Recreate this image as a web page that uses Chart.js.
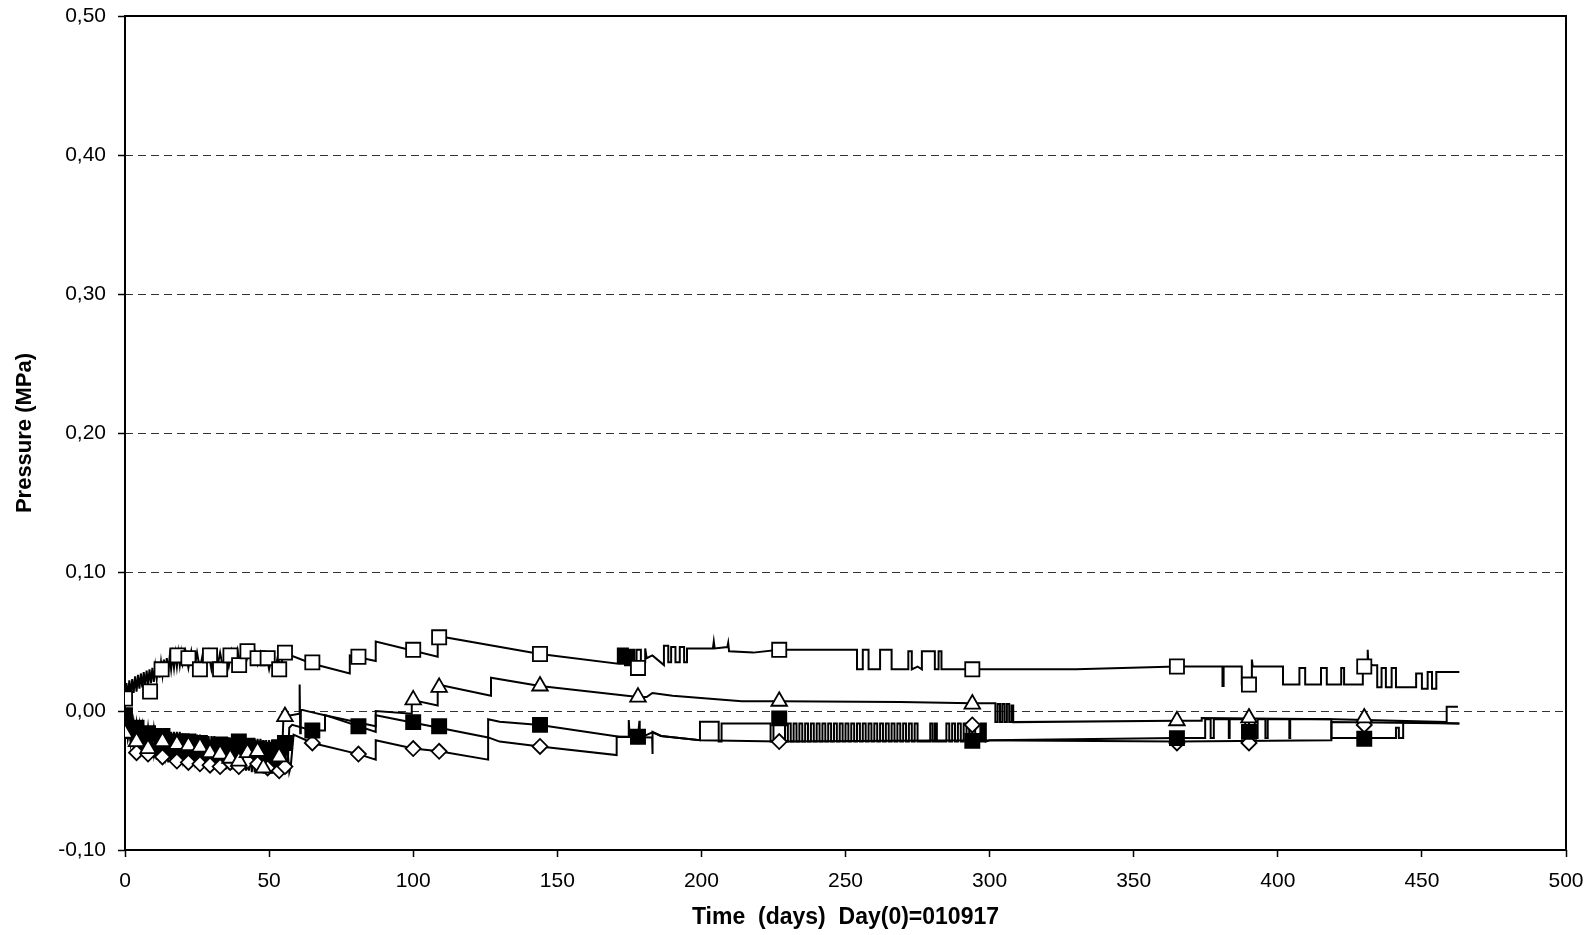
<!DOCTYPE html>
<html>
<head>
<meta charset="utf-8">
<script src="https://cdn.jsdelivr.net/npm/chart.js@4/dist/chart.umd.min.js"></script>
<style>
  html, body { margin: 0; padding: 0; background: #fff; }
  #wrap { width: 1594px; height: 935px; }
</style>
</head>
<body>
<div id="wrap"><canvas id="chart-pressure" width="1594" height="935"></canvas></div>
<script>
// Pressure readings, [day, MPa]
const seriesA = [
  [0,0.009],[0.5,0.020],[1,0.010],[1.5,0.022],[2,0.012],[2.5,0.023],[3,0.013],[3.5,0.025],[4,0.014],[4.5,0.026],
  [5,0.016],[5.5,0.027],[6,0.017],[6.5,0.028],[7,0.018],[7.5,0.029],[8,0.019],[8.5,0.030],[9,0.020],[9.5,0.031],
  [10,0.021],[10.5,0.032],[11,0.023],[11.5,0.034],[12,0.024],[12.5,0.035],[13,0.026],[13.5,0.037],[14,0.027],
  [14.5,0.038],[15,0.028],[15.5,0.039],[16,0.030],[16.5,0.040],[17,0.031],[17.5,0.041],[18,0.032],[18.5,0.042],
  [19,0.033],[19.5,0.042],[20,0.034],[21,0.043],[22,0.031],[23,0.043],[24,0.030],[25,0.042],[26,0.030],[27,0.041],
  [28,0.031],[29,0.042],[30,0.030],[31,0.041],[32,0.031],[33,0.042],[34,0.031],[35,0.042],[36,0.032],[37,0.043],
  [38,0.033],[39,0.044],[40,0.034],[41,0.045],[42,0.035],[43,0.044],[44,0.035],[45,0.043],[46,0.034],[47,0.042],
  [48,0.035],[49,0.041],[50,0.030],[51,0.040],[52,0.029],[53,0.039],[54,0.031],[55,0.042],
  [65,0.034],[78,0.027],[78,0.040],[87,0.036],[87,0.050],[108.5,0.039],[108.5,0.054],[144,0.041],[171,0.034],
  [171,0.045],[171.5,0.045],[171.5,0.034],[172,0.034],[172,0.045],[172.5,0.045],[172.5,0.034],[173,0.034],
  [173,0.045],[173.5,0.045],[173.5,0.033],[174,0.033],[174,0.045],[174.5,0.045],[174.5,0.033],[175,0.033],
  [175,0.044],[175.5,0.044],[175.5,0.033],[176,0.033],[176,0.044],[176.7,0.044],[176.7,0.033],[177.5,0.033],
  [177.5,0.044],[179,0.044],[179,0.035],[180.5,0.035],[180.5,0.045],
  [181,0.038],[183,0.040],[187,0.033],[187,0.047],[188.5,0.047],[188.5,0.035],[189.5,0.035],[189.5,0.046],
  [191,0.046],[191,0.035],[192.5,0.035],[192.5,0.046],[194,0.046],[194,0.035],[195,0.035],[195,0.045],
  [204,0.045],[204.3,0.050],[204.6,0.045],[209,0.046],[209.3,0.049],[209.6,0.043],[218,0.042],[227,0.044],[254,0.044],
  [254,0.030],[256,0.030],[256,0.044],[258,0.044],[258,0.030],[262,0.030],[262,0.044],[266,0.044],[266,0.030],
  [271.8,0.030],[271.8,0.043],[273,0.043],[273,0.030],[275,0.032],[276.5,0.030],[276.5,0.043],[281,0.043],
  [281,0.030],[282.3,0.030],[282.3,0.043],[283.3,0.043],[283.3,0.030],[294,0.030],[330,0.030],[365,0.032],
  [380.8,0.032],[380.8,0.018],[381.2,0.018],[381.2,0.032],[387.5,0.032],[387.5,0.019],[391,0.019],[391,0.037],
  [391.3,0.032],[401.8,0.032],[401.8,0.019],[407.5,0.019],[407.5,0.031],[409.5,0.031],[409.5,0.019],[415,0.019],
  [415,0.031],[417,0.031],[417,0.019],[422,0.019],[422,0.031],[423,0.031],[423,0.019],[429.5,0.019],[429.5,0.032],
  [431,0.034],[431.2,0.044],[431.4,0.034],[433,0.033],[434.5,0.033],[434.5,0.017],[436,0.017],[436,0.031],
  [437.5,0.031],[437.5,0.017],[439.5,0.017],[439.5,0.031],[441,0.031],[441,0.017],[448,0.017],[448,0.027],
  [450,0.027],[450,0.016],[452,0.016],[452,0.028],[453.5,0.028],[453.5,0.016],[455,0.016],[455,0.028],[463,0.028]
];

const seriesB = [
  [0,-0.016],[0.5,-0.006],[1,-0.018],[1.5,-0.010],[2,-0.021],[2.5,-0.012],[3,-0.023],[3.5,-0.014],[4,-0.025],
  [4.5,-0.016],[5,-0.026],[5.5,-0.017],[6,-0.027],[6.5,-0.018],[7,-0.028],[7.5,-0.019],[8,-0.029],[8.5,-0.019],
  [9,-0.030],[9.5,-0.020],[10,-0.030],[10.5,-0.020],[11,-0.031],[11.5,-0.021],[12,-0.031],[12.5,-0.021],
  [13,-0.032],[13.5,-0.022],[14,-0.032],[14.5,-0.022],[15,-0.033],[15.5,-0.022],[16,-0.033],[16.5,-0.023],
  [17,-0.033],[17.5,-0.023],[18,-0.034],[18.5,-0.023],[19,-0.034],[19.5,-0.024],[20,-0.034],[20.5,-0.024],
  [21,-0.035],[21.5,-0.024],[22,-0.035],[22.5,-0.024],[23,-0.035],[23.5,-0.025],[24,-0.035],[24.5,-0.025],
  [25,-0.036],[25.5,-0.025],[26,-0.036],[26.5,-0.025],[27,-0.036],[27.5,-0.025],[28,-0.036],[28.5,-0.026],
  [29,-0.037],[29.5,-0.026],[30,-0.037],[30.5,-0.026],[31,-0.037],[31.5,-0.026],[32,-0.037],[32.5,-0.026],
  [33,-0.038],[33.5,-0.026],[34,-0.038],[34.5,-0.027],[35,-0.038],[35.5,-0.027],[36,-0.038],[36.5,-0.027],
  [37,-0.038],[37.5,-0.027],[38,-0.039],[38.5,-0.027],[39,-0.039],[39.5,-0.027],[40,-0.039],[40.5,-0.028],
  [41,-0.039],[41.5,-0.028],[42,-0.039],[42.5,-0.028],[43,-0.040],[43.5,-0.028],[44,-0.040],[44.5,-0.028],
  [45,-0.040],[45.5,-0.028],[46,-0.040],[46.5,-0.029],[47,-0.041],[47.5,-0.029],[48,-0.041],[48.5,-0.029],
  [49,-0.041],[49.5,-0.029],[50,-0.041],[50.5,-0.029],[51,-0.041],[51.5,-0.029],[52,-0.042],[52.5,-0.029],
  [53,-0.042],[53.5,-0.030],[54,-0.042],[54.5,-0.030],[55,-0.004],
  [60.5,-0.002],[60.6,0.019],[60.8,-0.016],[61,0.001],[65,-0.001],[69.3,-0.003],[87,-0.011],[87,0.000],
  [99.5,-0.002],[99.5,0.008],[108.5,0.004],[108.5,0.019],[127,0.011],[127,0.024],[144,0.018],[178,0.010],
  [181,0.010],[183,0.013],[190,0.011],[214,0.007],[227,0.007],[269,0.0065],[294,0.0055],[302,0.0055],
  [302,-0.008],[302.8,-0.008],[302.8,0.005],[303.6,0.005],[303.6,-0.008],[304.4,-0.008],[304.4,0.005],
  [305.2,0.005],[305.2,-0.008],[306,-0.008],[306,0.005],[306.8,0.005],[306.8,-0.008],[307.6,-0.008],
  [307.6,0.004],[308.2,0.004],[308.2,-0.008],[365,-0.007],[373.6,-0.007],[373.6,-0.005],[420,-0.006],
  [458.6,-0.008],[458.6,0.003],[462.5,0.003]
];

const seriesC = [
  [0,-0.003],[0.5,-0.012],[1,-0.004],[1.5,-0.015],[2,-0.006],[2.5,-0.017],[3,-0.008],[3.5,-0.018],[4,-0.009],
  [4.5,-0.019],[5,-0.010],[5.5,-0.020],[6,-0.011],[6.5,-0.021],[7,-0.011],[7.5,-0.022],[8,-0.012],[8.5,-0.022],
  [9,-0.012],[9.5,-0.023],[10,-0.013],[10.5,-0.023],[11,-0.013],[11.5,-0.024],[12,-0.013],[12.5,-0.024],
  [13,-0.014],[13.5,-0.025],[14,-0.014],[14.5,-0.025],[15,-0.014],[15.5,-0.025],[16,-0.015],[16.5,-0.026],
  [17,-0.015],[17.5,-0.026],[18,-0.015],[18.5,-0.026],[19,-0.015],[19.5,-0.027],[20,-0.016],[20.5,-0.027],
  [21,-0.016],[21.5,-0.027],[22,-0.016],[22.5,-0.028],[23,-0.017],[23.5,-0.028],[24,-0.017],[24.5,-0.028],
  [25,-0.017],[25.5,-0.029],[26,-0.017],[26.5,-0.029],[27,-0.018],[27.5,-0.029],[28,-0.018],[28.5,-0.029],
  [29,-0.018],[29.5,-0.030],[30,-0.018],[30.5,-0.030],[31,-0.018],[31.5,-0.030],[32,-0.019],[32.5,-0.030],
  [33,-0.019],[33.5,-0.031],[34,-0.019],[34.5,-0.031],[35,-0.019],[35.5,-0.031],[36,-0.019],[36.5,-0.031],
  [37,-0.019],[37.5,-0.031],[38,-0.019],[38.5,-0.032],[39,-0.019],[39.5,-0.032],[40,-0.020],[40.5,-0.032],
  [41,-0.020],[41.5,-0.032],[42,-0.020],[42.5,-0.032],[43,-0.020],[43.5,-0.033],[44,-0.020],[44.5,-0.033],
  [45,-0.020],[45.5,-0.033],[46,-0.020],[46.5,-0.033],[47,-0.020],[47.5,-0.033],[48,-0.021],[48.5,-0.034],
  [49,-0.021],[49.5,-0.034],[50,-0.021],[50.5,-0.034],[51,-0.021],[51.5,-0.034],[52,-0.021],[52.5,-0.034],
  [53,-0.021],[53.5,-0.035],[54,-0.021],[54.5,-0.035],[55,-0.020],[55.5,-0.035],[56,-0.020],[56.5,-0.036],
  [57,-0.012],[58,-0.010],
  [65,-0.014],[69.4,-0.014],[69.4,-0.003],[87,-0.015],[87,-0.003],[126,-0.019],[126,-0.006],[130,-0.0077],
  [144,-0.010],[171.5,-0.0185],[174.8,-0.0185],[174.8,-0.0065],[175.1,-0.0185],[178,-0.0185],[178.5,-0.007],
  [178.6,-0.021],[179,-0.019],[183,-0.0153],[186,-0.018],[199.5,-0.021],[199.5,-0.0077],[206,-0.0077],
  [206,-0.022],[207,-0.022],[207,-0.009],[224,-0.009],[224,-0.022],[225,-0.022],[225,-0.006],[229,-0.006],[229,-0.022],
  [230,-0.022],[230,-0.009],[231,-0.009],[231,-0.022],[232,-0.022],[232,-0.009],[233,-0.009],[233,-0.022],
  [234,-0.022],[234,-0.009],[235,-0.009],[235,-0.022],[236,-0.022],[236,-0.009],[237,-0.009],[237,-0.022],
  [238,-0.022],[238,-0.009],[239,-0.009],[239,-0.022],[240,-0.022],[240,-0.009],[241,-0.009],[241,-0.022],
  [242,-0.022],[242,-0.009],[243,-0.009],[243,-0.022],[244,-0.022],[244,-0.009],[245,-0.009],[245,-0.022],
  [246,-0.022],[246,-0.009],[247,-0.009],[247,-0.022],[248,-0.022],[248,-0.009],[249,-0.009],[249,-0.022],
  [250,-0.022],[250,-0.009],[251,-0.009],[251,-0.022],[252,-0.022],[252,-0.009],[253,-0.009],[253,-0.022],
  [254,-0.022],[254,-0.009],[255,-0.009],[255,-0.022],[256,-0.022],[256,-0.009],[257,-0.009],[257,-0.022],
  [258,-0.022],[258,-0.009],[259,-0.009],[259,-0.022],[260,-0.022],[260,-0.009],[261,-0.009],[261,-0.022],
  [262,-0.022],[262,-0.009],[263,-0.009],[263,-0.022],[264,-0.022],[264,-0.009],[265,-0.009],[265,-0.022],
  [266,-0.022],[266,-0.009],[267,-0.009],[267,-0.022],[268,-0.022],[268,-0.009],[269,-0.009],[269,-0.022],
  [270,-0.022],[270,-0.009],[271,-0.009],[271,-0.022],[272,-0.022],[272,-0.009],[273,-0.009],[273,-0.022],
  [274,-0.022],[274,-0.009],[275,-0.009],[275,-0.022],[279.4,-0.022],[279.4,-0.009],[280.2,-0.009],
  [280.2,-0.022],[281,-0.022],[281,-0.009],[281.7,-0.009],[281.7,-0.022],[285,-0.022],[285,-0.009],
  [286,-0.009],[286,-0.022],[287,-0.022],[287,-0.009],[288,-0.009],[288,-0.022],[289,-0.022],[289,-0.009],
  [290,-0.009],[290,-0.022],[291,-0.022],[291,-0.009],[292,-0.009],[292,-0.022],[293,-0.022],[293,-0.009],
  [294,-0.009],[294,-0.022],[296.8,-0.022],[296.8,-0.009],[297.5,-0.009],[297.5,-0.022],[298,-0.022],
  [298,-0.009],[298.7,-0.009],[298.7,-0.022],[300,-0.021],[365,-0.0195],
  [374.8,-0.0195],[374.8,-0.006],[376.7,-0.006],[376.7,-0.0195],[377.8,-0.0195],[377.8,-0.006],[383,-0.006],
  [383,-0.0195],[383.3,-0.0195],[383.3,-0.006],[388.7,-0.006],[388.7,-0.0195],[390,-0.0195],[390,-0.006],
  [392,-0.006],[392,-0.0195],[393,-0.0195],[393,-0.006],[395.7,-0.006],[395.7,-0.0195],[396.5,-0.0195],
  [396.5,-0.006],[404,-0.006],[404,-0.0195],[404.3,-0.0195],[404.3,-0.006],[418.6,-0.006],[418.6,-0.0195],
  [441,-0.0195],[441,-0.012],[442,-0.012],[442,-0.0195],[443.5,-0.0195],[443.5,-0.008],[463,-0.009]
];

const seriesD = [
  [0,-0.015],[0.5,-0.008],[1,-0.019],[1.5,-0.012],[2,-0.023],[2.5,-0.015],[3,-0.026],[3.5,-0.017],[4,-0.028],
  [4.5,-0.019],[5,-0.030],[5.5,-0.020],[6,-0.031],[6.5,-0.021],[7,-0.032],[7.5,-0.022],[8,-0.033],[8.5,-0.023],
  [9,-0.034],[9.5,-0.023],[10,-0.034],[10.5,-0.024],[11,-0.035],[11.5,-0.024],[12,-0.035],[12.5,-0.025],
  [13,-0.036],[13.5,-0.025],[14,-0.036],[14.5,-0.025],[15,-0.037],[15.5,-0.026],[16,-0.037],[16.5,-0.026],
  [17,-0.037],[17.5,-0.026],[18,-0.038],[18.5,-0.027],[19,-0.038],[19.5,-0.027],[20,-0.038],[20.5,-0.027],
  [21,-0.039],[21.5,-0.027],[22,-0.039],[22.5,-0.028],[23,-0.039],[23.5,-0.028],[24,-0.039],[24.5,-0.028],
  [25,-0.040],[25.5,-0.028],[26,-0.040],[26.5,-0.028],[27,-0.040],[27.5,-0.029],[28,-0.040],[28.5,-0.029],
  [29,-0.041],[29.5,-0.029],[30,-0.041],[30.5,-0.029],[31,-0.041],[31.5,-0.029],[32,-0.041],[32.5,-0.029],
  [33,-0.041],[33.5,-0.030],[34,-0.042],[34.5,-0.030],[35,-0.042],[35.5,-0.030],[36,-0.042],[36.5,-0.030],
  [37,-0.042],[37.5,-0.030],[38,-0.042],[38.5,-0.030],[39,-0.043],[39.5,-0.031],[40,-0.043],[40.5,-0.031],
  [41,-0.043],[41.5,-0.031],[42,-0.043],[42.5,-0.031],[43,-0.043],[43.5,-0.031],[44,-0.044],[44.5,-0.031],
  [45,-0.044],[45.5,-0.031],[46,-0.044],[46.5,-0.031],[47,-0.044],[47.5,-0.031],[48,-0.045],[48.5,-0.032],
  [49,-0.045],[49.5,-0.032],[50,-0.045],[50.5,-0.032],[51,-0.045],[51.5,-0.032],[52,-0.045],[52.5,-0.032],
  [53,-0.045],[53.5,-0.032],[54,-0.045],[54.5,-0.032],[55,-0.045],[55.5,-0.031],[56,-0.045],[56.5,-0.030],
  [57,-0.044],[57.5,-0.040],[58.5,-0.017],
  [65,-0.023],[81,-0.031],[87,-0.035],[87,-0.021],[100,-0.027],[109,-0.029],[126,-0.035],
  [126,-0.019],[130,-0.022],[144,-0.0255],[170.6,-0.0317],[170.6,-0.0185],[182.9,-0.019],[183,-0.031],
  [183.1,-0.015],[186,-0.018],[199.5,-0.021],[227,-0.022],[293,-0.021],[293,-0.010],[295,-0.010],[295,-0.021],
  [365,-0.022],[418.6,-0.021],[418.6,-0.008],[463,-0.009]
];

// Marker positions (Excel style: markers only at the logged sample points)
const markA = [[0,0.009],[8.7,0.014],[12.7,0.030],[18.2,0.040],[22,0.038],[26,0.030],[29.5,0.040],[33,0.030],
  [36.6,0.040],[39.6,0.033],[42.5,0.043],[46,0.038],[49.5,0.038],[53.5,0.030],[55.5,0.042],[65,0.035],[81,0.039],
  [100,0.044],[109,0.053],[144,0.041],[178,0.031],[227,0.044],[294,0.030],[365,0.032],[390,0.019],[430,0.032]];
const markB = [[0,-0.016],[4,-0.022],[8,-0.027],[13,-0.022],[18,-0.024],[22,-0.025],[26,-0.026],[29.5,-0.030],
  [33,-0.031],[36.5,-0.034],[39.5,-0.036],[42.5,-0.030],[46,-0.029],[48,-0.041],[53.5,-0.033],[55.5,-0.004],
  [100,0.008],[109,0.017],[144,0.018],[178,0.010],[227,0.007],[294,0.005],[365,-0.007],[390,-0.005],[430,-0.005]];
const markC = [[0,-0.003],[4,-0.012],[8,-0.016],[13,-0.018],[18,-0.022],[22,-0.022],[26,-0.023],[29.5,-0.027],
  [33,-0.024],[36.5,-0.025],[39.5,-0.022],[42.5,-0.025],[46,-0.027],[49.5,-0.028],[53.5,-0.026],[55.5,-0.023],
  [65,-0.014],[81,-0.011],[100,-0.008],[109,-0.011],[144,-0.010],[178,-0.0185],[227,-0.0053],[294,-0.0215],
  [365,-0.0195],[390,-0.015],[430,-0.020]];
const markD = [[0,-0.015],[4,-0.030],[8,-0.031],[13,-0.033],[18,-0.036],[22,-0.037],[26,-0.038],[29.5,-0.039],
  [33,-0.040],[36.5,-0.037],[39.5,-0.040],[42.5,-0.036],[46,-0.038],[49.5,-0.041],[53.5,-0.043],[55.5,-0.040],
  [65,-0.023],[81,-0.031],[100,-0.027],[109,-0.029],[144,-0.0255],[227,-0.022],[294,-0.010],[365,-0.023],
  [390,-0.023],[430,-0.010]];

const xTitle = 'Time  (days)  Day(0)=010917';
const yTitle = 'Pressure (MPa)';

const FONT = "'Liberation Sans', Arial, Helvetica, sans-serif";
const toXY = pts => pts.map(p => ({ x: p[0], y: p[1] }));

function lineSet(pts) {
  return {
    data: toXY(pts),
    showLine: true,
    borderColor: '#000',
    borderWidth: 2,
    pointRadius: 0,
    tension: 0,
    order: 2
  };
}

function markerSet(pts, style, radius, fill) {
  return {
    data: toXY(pts),
    showLine: false,
    pointStyle: style,
    pointRadius: radius,
    pointBorderWidth: 1.8,
    pointBorderColor: '#000',
    pointBackgroundColor: fill,
    order: 1
  };
}

// frame around the plot area, like the Excel original
const framePlugin = {
  id: 'frame',
  beforeDatasetsDraw(chart) {
    const { ctx, chartArea: a } = chart;
    ctx.save();
    ctx.strokeStyle = '#000';
    ctx.lineWidth = 2;
    ctx.strokeRect(a.left, a.top, a.right - a.left, a.bottom - a.top);
    ctx.restore();
  }
};

const ctx = document.getElementById('chart-pressure').getContext('2d');
new Chart(ctx, {
  type: 'scatter',
  data: {
    datasets: [
      lineSet(seriesA), lineSet(seriesB), lineSet(seriesC), lineSet(seriesD),
      markerSet(markA, 'rect', 10, '#fff'),
      markerSet(markB, 'triangle', 9, '#fff'),
      markerSet(markC, 'rect', 10, '#000'),
      markerSet(markD, 'rectRot', 7.5, '#fff')
    ]
  },
  options: {
    responsive: false,
    devicePixelRatio: 1,
    animation: false,
    layout: { padding: { left: 0, top: 16, right: 28, bottom: 0 } },
    plugins: {
      legend: { display: false },
      tooltip: { enabled: false }
    },
    scales: {
      x: {
        type: 'linear',
        min: 0,
        max: 500,
        afterFit: s => { s.height = 85; s.paddingLeft = 0; s.paddingRight = 0; },
        ticks: {
          stepSize: 50,
          color: '#000',
          padding: 12,
          maxRotation: 0,
          font: { family: FONT, size: 21 }
        },
        grid: {
          drawOnChartArea: false,
          drawTicks: true,
          tickLength: 7,
          tickColor: '#000',
          tickWidth: 1.5
        },
        border: { display: false },
        title: {
          display: true,
          text: xTitle,
          color: '#000',
          font: { family: FONT, size: 23, weight: 'bold' },
          padding: { top: 0, bottom: 4 }
        }
      },
      y: {
        min: -0.1,
        max: 0.5,
        afterFit: s => { s.width = 125; s.paddingTop = 0; s.paddingBottom = 0; },
        ticks: {
          stepSize: 0.1,
          color: '#000',
          padding: 12,
          font: { family: FONT, size: 21 },
          callback: v => (Math.abs(v) < 1e-9 ? 0 : v).toFixed(2).replace('.', ',')
        },
        grid: {
          color: c => (c.tick && (c.tick.value > 0.49 || c.tick.value < -0.09)) ? 'rgba(0,0,0,0)' : '#333',
          lineWidth: 1,
          drawTicks: true,
          tickLength: 7,
          tickColor: '#000',
          tickWidth: 1.5,
          tickBorderDash: []
        },
        border: { display: false, dash: [8, 5] },
        title: {
          display: true,
          text: yTitle,
          color: '#000',
          font: { family: FONT, size: 22, weight: 'bold' },
          padding: { top: 12, bottom: 0 }
        }
      }
    }
  },
  plugins: [framePlugin]
});
</script>
</body>
</html>
